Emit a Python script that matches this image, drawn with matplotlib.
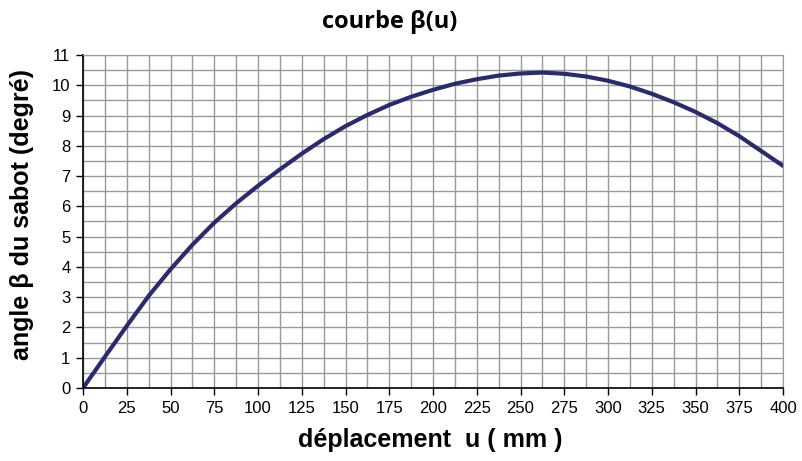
import matplotlib
matplotlib.use("Agg")
import matplotlib.pyplot as plt
import numpy as np

u = [0, 12.5, 25, 37.5, 50, 62.5, 75, 87.5, 100, 112.5, 125, 137.5, 150, 162.5,
     175, 187.5, 200, 212.5, 225, 237.5, 250, 262.5, 275, 287.5, 300, 312.5,
     325, 337.5, 350, 362.5, 375, 387.5, 400]
beta = [0, 1.03, 2.05, 3.04, 3.92, 4.73, 5.46, 6.1, 6.68, 7.22, 7.74, 8.22, 8.65,
        9.02, 9.35, 9.62, 9.85, 10.05, 10.2, 10.32, 10.39, 10.42, 10.38, 10.29,
        10.15, 9.96, 9.72, 9.44, 9.12, 8.75, 8.32, 7.83, 7.34]
xticks = list(range(0, 401, 25))
yticks = list(range(0, 12))

plt.rcParams['font.family'] = ['Liberation Sans', 'DejaVu Sans']

fig = plt.figure(figsize=(8.02, 4.61), dpi=100)
ax = fig.add_axes([83/802, (461-388)/461, 700/802, 333/461])

ax.plot(u, beta, color='#2a2a6e', lw=3.0, solid_capstyle='round',
        solid_joinstyle='round')

ax.set_xlim(0, 400)
ax.set_ylim(0, 11)
ax.set_xticks(xticks)
ax.set_yticks(yticks)
ax.set_xticks(np.arange(0, 401, 12.5), minor=True)
ax.set_yticks(np.arange(0, 11.01, 0.5), minor=True)
ax.grid(which='both', color='#999999', lw=1.0)
ax.tick_params(which='minor', length=0)
ax.tick_params(which='major', length=5, width=1, color='black', labelsize=12, pad=4)
ax.set_axisbelow(True)
for s in ['top', 'right']:
    ax.spines[s].set_color('#999999')
for s in ['left', 'bottom']:
    ax.spines[s].set_color('black')
    ax.spines[s].set_linewidth(1.2)

fig.text(390/802, 1 - 22/461, 'courbe β(u)', ha='center', va='center',
         fontsize=17, fontweight='bold', family=['Open Sans', 'DejaVu Sans'])
fig.text(430/802, 1 - 440/461, 'déplacement  u ( mm )', ha='center', va='center',
         fontsize=18, fontweight='bold')
fig.text(22/802, 1 - 214/461, 'angle β du sabot (degré)', ha='center', va='center',
         fontsize=18, fontweight='bold', rotation=90)

fig.savefig('out.png', dpi=100)
